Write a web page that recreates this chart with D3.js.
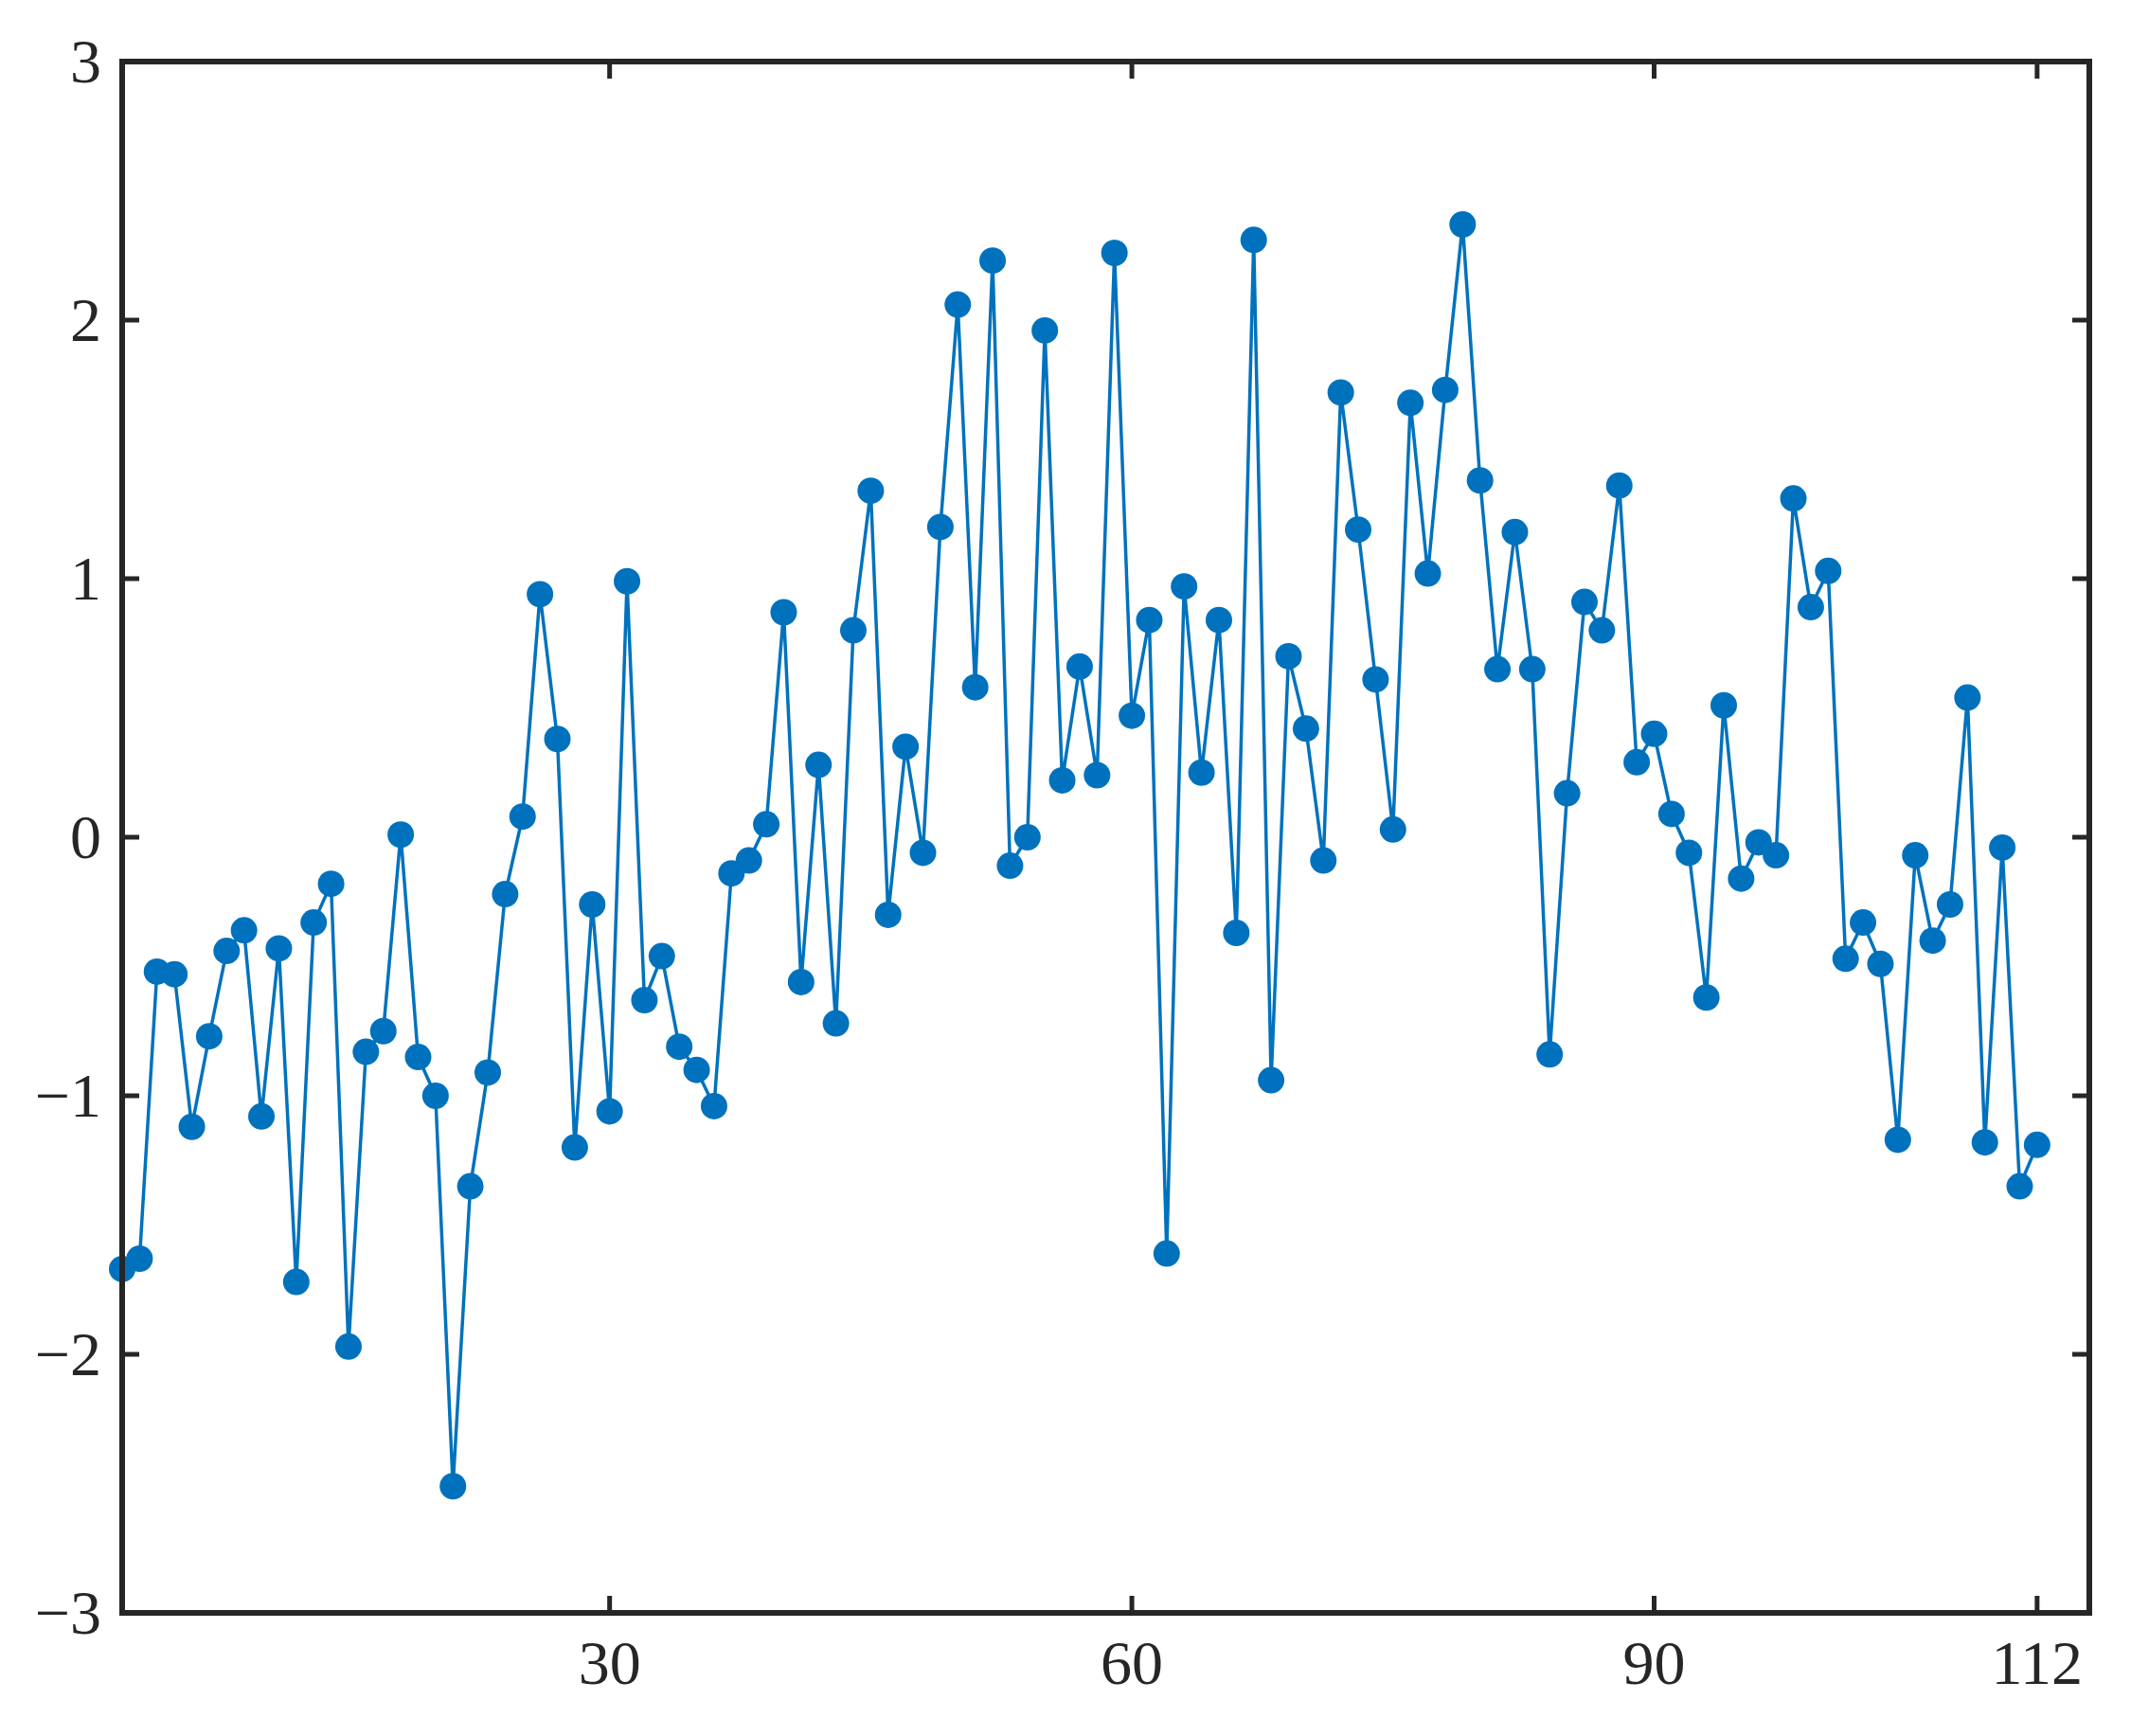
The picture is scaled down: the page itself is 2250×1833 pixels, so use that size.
<!DOCTYPE html>
<html><head><meta charset="utf-8">
<script src="https://cdn.jsdelivr.net/npm/d3@7"></script>
<style>body{margin:0;background:#fff}</style></head>
<body><svg id="c" width="2250" height="1833"></svg>
<script>
const values=[-1.67,-1.63,-0.52,-0.53,-1.12,-0.77,-0.44,-0.36,-1.08,-0.43,-1.72,-0.33,-0.18,-1.97,-0.83,-0.75,0.01,-0.85,-1.00,-2.51,-1.35,-0.91,-0.22,0.08,0.94,0.38,-1.20,-0.26,-1.06,0.99,-0.63,-0.46,-0.81,-0.90,-1.04,-0.14,-0.09,0.05,0.87,-0.56,0.28,-0.72,0.80,1.34,-0.30,0.35,-0.06,1.20,2.06,0.58,2.23,-0.11,0.00,1.96,0.22,0.66,0.24,2.26,0.47,0.84,-1.61,0.97,0.25,0.84,-0.37,2.31,-0.94,0.70,0.42,-0.09,1.72,1.19,0.61,0.03,1.68,1.02,1.73,2.37,1.38,0.65,1.18,0.65,-0.84,0.17,0.91,0.80,1.36,0.29,0.40,0.09,-0.06,-0.62,0.51,-0.16,-0.02,-0.07,1.31,0.89,1.03,-0.47,-0.33,-0.49,-1.17,-0.07,-0.40,-0.26,0.54,-1.18,-0.04,-1.35,-1.19];
const xs=values.map((v,i)=>i+2);
const xTicks=[30,60,90,112];
const yTicks=[-3,-2,-1,0,1,2,3];
const svg=d3.select("#c");
const L=129,R=2206,T=65,B=1703;
const x=d3.scaleLinear().domain([2,115]).range([L,R]);
const y=d3.scaleLinear().domain([-3,3]).range([B,T]);
const col="#0072BD",ax="#262626",font="Liberation Serif, Times New Roman, Times, serif";
const g=svg.append("g");
g.append("path").datum(values).attr("fill","none").attr("stroke",col).attr("stroke-width",3.5)
 .attr("d",d3.line().x((d,i)=>x(xs[i])).y(d=>y(d)));
g.selectAll("circle").data(values).join("circle").attr("cx",(d,i)=>x(xs[i])).attr("cy",d=>y(d)).attr("r",14).attr("fill",col);
const tl=18;
xTicks.forEach(t=>{
 svg.append("line").attr("x1",x(t)).attr("x2",x(t)).attr("y1",B).attr("y2",B-tl).attr("stroke",ax).attr("stroke-width",5);
 svg.append("line").attr("x1",x(t)).attr("x2",x(t)).attr("y1",T).attr("y2",T+tl).attr("stroke",ax).attr("stroke-width",5);
 svg.append("text").attr("x",x(t)).attr("y",B+75).attr("text-anchor","middle").attr("font-family",font).attr("font-size",66).attr("fill",ax).text(t);
});
yTicks.forEach(t=>{
 svg.append("line").attr("x1",L).attr("x2",L+tl).attr("y1",y(t)).attr("y2",y(t)).attr("stroke",ax).attr("stroke-width",5);
 svg.append("line").attr("x1",R).attr("x2",R-tl).attr("y1",y(t)).attr("y2",y(t)).attr("stroke",ax).attr("stroke-width",5);
 svg.append("text").attr("x",L-22).attr("y",y(t)+22).attr("text-anchor","end").attr("font-family",font).attr("font-size",66).attr("fill",ax).text(t<0?"\u2212"+(-t):t);
});
svg.append("rect").attr("x",L).attr("y",T).attr("width",R-L).attr("height",B-T).attr("fill","none").attr("stroke",ax).attr("stroke-width",6);
</script></body></html>
